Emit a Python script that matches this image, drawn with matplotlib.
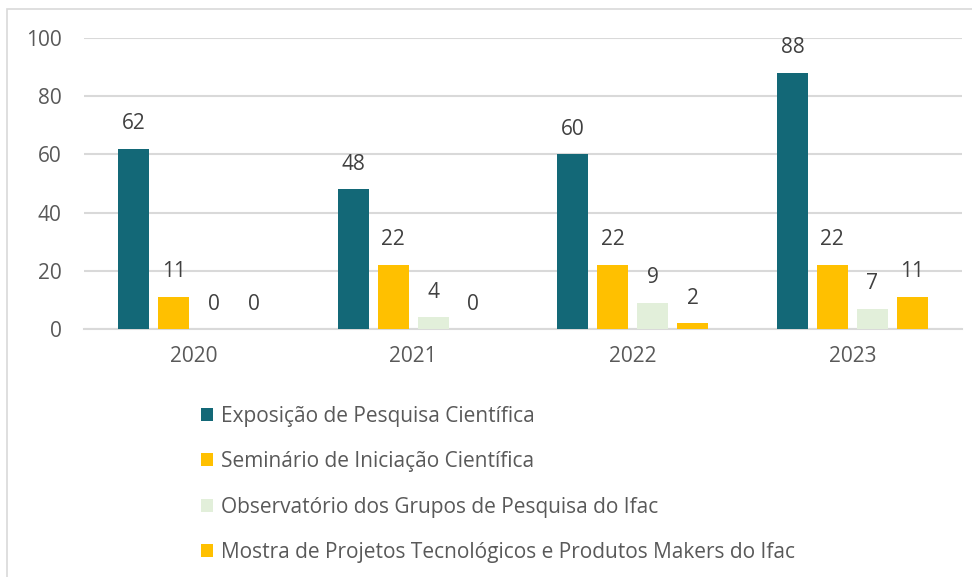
import matplotlib
matplotlib.use("Agg")
import matplotlib.pyplot as plt
import numpy as np
from matplotlib.patches import Rectangle

years = ["2020", "2021", "2022", "2023"]
series_names = [
    "Exposição de Pesquisa Científica",
    "Seminário de Iniciação Científica",
    "Observatório dos Grupos de Pesquisa do Ifac",
    "Mostra de Projetos Tecnológicos e Produtos Makers do Ifac",
]
exposicao = [62, 48, 60, 88]
seminario = [11, 22, 22, 22]
observatorio = [0, 4, 9, 7]
mostra = [0, 0, 2, 11]
colors = ["#136877", "#FFC000", "#E2EFDA", "#FFC000"]

plt.rcParams["font.family"] = ["Open Sans", "DejaVu Sans"]
text_color = "#595959"
grid_color = "#D9D9D9"
fs = 15

fig = plt.figure(figsize=(9.72, 5.77), dpi=100)
fig.patches.append(Rectangle((7 / 972, -0.1), 1.2, 1 - 9 / 577 + 0.1,
                             transform=fig.transFigure, fill=False,
                             edgecolor=grid_color, linewidth=1.2))

ax = fig.add_axes([84 / 972, 1 - 329 / 577, 878 / 972, 291 / 577])

x = np.arange(len(years))
step = 40 / 220
width = 31 / 220
all_series = [exposicao, seminario, observatorio, mostra]
handles = []
for i, (vals, name, c) in enumerate(zip(all_series, series_names, colors)):
    pos = x + (i - 1.5) * step
    bars = ax.bar(pos, vals, width, color=c, label=name, zorder=3)
    handles.append(bars)
    for px, v in zip(pos, vals):
        ax.annotate(str(v), (px, v), xytext=(0, 25), textcoords="offset pixels",
                    ha="center", va="center", fontsize=fs, color="#404040")

ax.set_xlim(-0.5, 3.5)
ax.set_ylim(0, 100)
ax.set_yticks(range(0, 101, 20))
ax.set_xticks(x)
ax.set_xticklabels(years)
ax.grid(axis="y", color=grid_color, linewidth=1.5, zorder=0)
ax.set_axisbelow(True)
for s in ["top", "right", "left"]:
    ax.spines[s].set_visible(False)
ax.spines["bottom"].set_color(grid_color)
ax.spines["bottom"].set_linewidth(1.5)
ax.tick_params(axis="both", length=0, labelsize=fs, colors=text_color)
ax.tick_params(axis="y", pad=16)
ax.tick_params(axis="x", pad=12)

leg = fig.legend(handles=handles, labels=series_names, loc="upper left",
                 bbox_to_anchor=(182 / 972, 1 - 387 / 577), frameon=False,
                 fontsize=fs, labelcolor=text_color, handlelength=0.6,
                 handleheight=0.6, handletextpad=0.35, labelspacing=1.17)

fig.savefig("out.png", dpi=100)
